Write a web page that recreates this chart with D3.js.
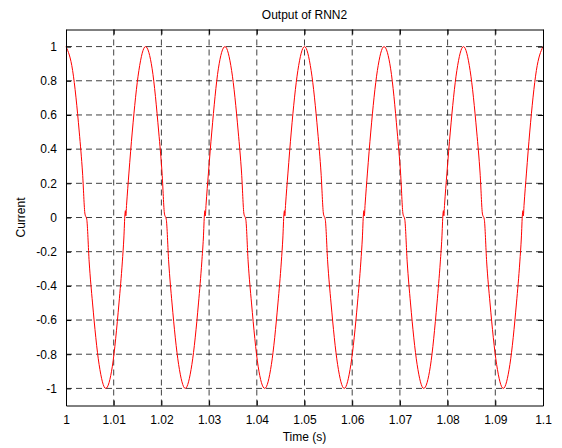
<!DOCTYPE html>
<html>
<head>
<meta charset="utf-8">
<script src="https://cdn.jsdelivr.net/npm/d3@7"></script>
<style>
body { margin: 0; background: #fff; }
text { font-family: Arial, "Liberation Sans", sans-serif; fill: #000; }
</style>
</head>
<body>
<div id="chart"></div>
<script>
var w = 562; var h = 448;
var margin = {top: 29.5, right: 19, bottom: 42.5, left: 66};

// sample times (s)
var times = [
	1.00000, 1.00139, 1.00278, 1.00347, 1.00398, 1.00435, 1.00486, 1.00556, 1.00694, 1.00833, 1.00972,
	1.01111, 1.01181, 1.01213, 1.01236, 1.01245, 1.01255, 1.01269, 1.01319, 1.01389, 1.01528,
	1.01667, 1.01806, 1.01944, 1.02014, 1.02065, 1.02102, 1.02153, 1.02222, 1.02361, 1.02500, 1.02639,
	1.02778, 1.02847, 1.02880, 1.02903, 1.02912, 1.02921, 1.02935, 1.02986, 1.03056, 1.03194,
	1.03333, 1.03472, 1.03611, 1.03681, 1.03731, 1.03769, 1.03819, 1.03889, 1.04028, 1.04167, 1.04306,
	1.04444, 1.04514, 1.04546, 1.04569, 1.04579, 1.04588, 1.04602, 1.04653, 1.04722, 1.04861,
	1.05000, 1.05139, 1.05278, 1.05347, 1.05398, 1.05435, 1.05486, 1.05556, 1.05694, 1.05833, 1.05972,
	1.06111, 1.06181, 1.06213, 1.06236, 1.06245, 1.06255, 1.06269, 1.06319, 1.06389, 1.06528,
	1.06667, 1.06806, 1.06944, 1.07014, 1.07065, 1.07102, 1.07153, 1.07222, 1.07361, 1.07500, 1.07639,
	1.07778, 1.07847, 1.07880, 1.07903, 1.07912, 1.07921, 1.07935, 1.07986, 1.08056, 1.08194,
	1.08333, 1.08472, 1.08611, 1.08681, 1.08731, 1.08769, 1.08819, 1.08889, 1.09028, 1.09167, 1.09306,
	1.09444, 1.09514, 1.09546, 1.09569, 1.09579, 1.09588, 1.09602, 1.09653, 1.09722, 1.09861,
	1.10000
];

// output current at those times
var current = [
	1, 0.86, 0.5, 0.26, 0.02, -0.01, -0.26, -0.5, -0.86, -1, -0.87,
	-0.5, -0.26, -0.12, 0.02, 0.04, 0.01, 0.07, 0.26, 0.5, 0.86,
	1, 0.87, 0.5, 0.26, 0.02, -0.01, -0.26, -0.5, -0.86, -1, -0.86,
	-0.5, -0.26, -0.12, 0.02, 0.04, 0.01, 0.07, 0.26, 0.5, 0.87,
	1, 0.86, 0.5, 0.26, 0.02, -0.01, -0.26, -0.5, -0.87, -1, -0.86,
	-0.5, -0.26, -0.12, 0.02, 0.04, 0.01, 0.07, 0.26, 0.5, 0.86,
	1, 0.86, 0.5, 0.26, 0.02, -0.01, -0.26, -0.5, -0.86, -1, -0.86,
	-0.5, -0.26, -0.12, 0.02, 0.04, 0.01, 0.07, 0.26, 0.5, 0.86,
	1, 0.87, 0.5, 0.26, 0.02, -0.01, -0.26, -0.5, -0.86, -1, -0.87,
	-0.5, -0.26, -0.12, 0.02, 0.04, 0.01, 0.07, 0.26, 0.5, 0.86,
	1, 0.86, 0.5, 0.26, 0.02, -0.01, -0.26, -0.5, -0.86, -1, -0.86,
	-0.5, -0.26, -0.12, 0.02, 0.04, 0.01, 0.07, 0.26, 0.5, 0.86,
	1
];

var xTicks = [1, 1.01, 1.02, 1.03, 1.04, 1.05, 1.06, 1.07, 1.08, 1.09, 1.1];
var yTicks = [-1, -0.8, -0.6, -0.4, -0.2, 0, 0.2, 0.4, 0.6, 0.8, 1];
var xLabels = ['1', '1.01', '1.02', '1.03', '1.04', '1.05', '1.06', '1.07', '1.08', '1.09', '1.1'];
var yLabels = ['-1', '-0.8', '-0.6', '-0.4', '-0.2', '0', '0.2', '0.4', '0.6', '0.8', '1'];

var pw = w - margin.left - margin.right;
var ph = h - margin.top - margin.bottom;

var svg = d3.select('#chart')
			.append('svg')
			.attr('width', w)
			.attr('height', h);

var g = svg.append('g')
			.attr('transform', 'translate(' + margin.left + ',' + margin.top + ')');

var x = d3.scaleLinear().domain([1, 1.1]).range([0, pw]);
var y = d3.scaleLinear().domain([-1.1, 1.1]).range([ph, 0]);

// dashed grid
g.selectAll('.gx')
	.data(xTicks.slice(1, -1))
	.enter()
	.append('line')
	.attr('x1', function(d) { return x(d); })
	.attr('x2', function(d) { return x(d); })
	.attr('y1', 0)
	.attr('y2', ph)
	.attr('stroke', '#111')
	.attr('stroke-width', 0.8)
	.attr('stroke-dasharray', '6,4');

g.selectAll('.gy')
	.data(yTicks)
	.enter()
	.append('line')
	.attr('x1', 0)
	.attr('x2', pw)
	.attr('y1', function(d) { return y(d); })
	.attr('y2', function(d) { return y(d); })
	.attr('stroke', '#111')
	.attr('stroke-width', 0.8)
	.attr('stroke-dasharray', '6,4');

// the trace
var line = d3.line()
			.x(function(d, i) { return x(times[i]); })
			.y(function(d) { return y(d); })
			.curve(d3.curveMonotoneX);

g.append('path')
	.datum(current)
	.attr('d', line)
	.attr('fill', 'none')
	.attr('stroke', '#ff0000')
	.attr('stroke-width', 1);

// axes, ticks pointing inward on all four sides
function fmt(list, ticks) {
	return function(d) { return list[ticks.indexOf(d)]; };
}

var axB = g.append('g')
	.attr('transform', 'translate(0,' + ph + ')')
	.call(d3.axisBottom(x).tickValues(xTicks).tickSizeInner(-5).tickSizeOuter(0).tickPadding(10)
		.tickFormat(fmt(xLabels, xTicks)));
var axT = g.append('g')
	.call(d3.axisTop(x).tickValues(xTicks).tickSizeInner(-5).tickSizeOuter(0).tickFormat(''));
var axL = g.append('g')
	.call(d3.axisLeft(y).tickValues(yTicks).tickSizeInner(-5).tickSizeOuter(0).tickPadding(9)
		.tickFormat(fmt(yLabels, yTicks)));
var axR = g.append('g')
	.attr('transform', 'translate(' + pw + ',0)')
	.call(d3.axisRight(y).tickValues(yTicks).tickSizeInner(-5).tickSizeOuter(0).tickFormat(''));

[axB, axT, axL, axR].forEach(function(a) {
	a.select('.domain').attr('stroke', '#000').attr('stroke-width', 1);
	a.selectAll('.tick line').attr('stroke', '#000');
	a.selectAll('text').attr('font-size', '12px').attr('font-family', 'Arial, "Liberation Sans", sans-serif').attr('fill', '#000');
});

// titles
svg.append('text')
	.attr('x', margin.left + pw / 2)
	.attr('y', 19)
	.attr('text-anchor', 'middle')
	.attr('font-size', '12px')
	.text('Output of RNN2');

svg.append('text')
	.attr('x', margin.left + pw / 2)
	.attr('y', 441)
	.attr('text-anchor', 'middle')
	.attr('font-size', '12px')
	.text('Time (s)');

svg.append('text')
	.attr('transform', 'translate(25,' + (margin.top + y(0)) + ') rotate(-90)')
	.attr('text-anchor', 'middle')
	.attr('font-size', '12px')
	.text('Current');
</script>
</body>
</html>
